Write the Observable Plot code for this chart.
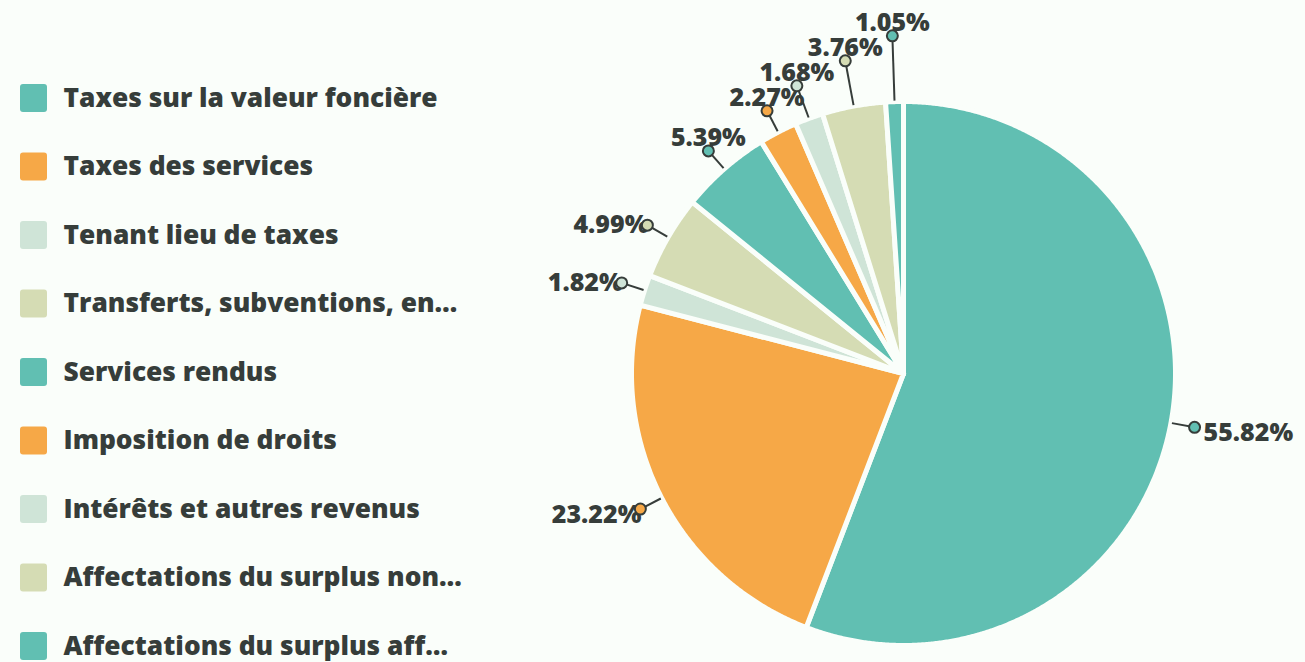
<!DOCTYPE html>
<html>
<head>
<meta charset="utf-8">
<script src="https://cdn.jsdelivr.net/npm/d3@7"></script>
<script src="https://cdn.jsdelivr.net/npm/@observablehq/plot@0.6"></script>
<style>
  html, body { margin: 0; padding: 0; background: #fafefa; }
  #chart svg { display: block; }
</style>
</head>
<body>
<div id="chart"></div>
<script>
// ---- data ----
const categories = [
  "Taxes sur la valeur foncière",
  "Taxes des services",
  "Tenant lieu de taxes",
  "Transferts, subventions, en…",
  "Services rendus",
  "Imposition de droits",
  "Intérêts et autres revenus",
  "Affectations du surplus non…",
  "Affectations du surplus aff…"
];
const shares = [55.82, 23.22, 1.82, 4.99, 5.39, 2.27, 1.68, 3.76, 1.05];
const sliceColors = ["#61bfb2", "#f6a847", "#cfe4d7", "#d5dcb4", "#61bfb2", "#f6a847", "#cfe4d7", "#d5dcb4", "#61bfb2"];

// ---- layout ----
const W = 1305, H = 662;
const bg = "#fafefa";
const ink = "#363d3a";
const cx = 903, cy = 373, R = 272, rDot = 296, gap = 25;
const total = d3.sum(shares);

// slices
let acc = 0;
const slices = shares.map((v, i) => {
  const a0 = acc / total * 2 * Math.PI;
  acc += v;
  const a1 = acc / total * 2 * Math.PI;
  return {i, v, a0, a1, mid: (a0 + a1) / 2, color: sliceColors[i], name: categories[i]};
});
const slicePts = [];
for (const s of slices) {
  slicePts.push({key: s.i, color: s.color, x: cx, y: cy});
  const n = Math.max(2, Math.ceil((s.a1 - s.a0) / 0.005));
  for (let k = 0; k <= n; k++) {
    const a = s.a0 + (s.a1 - s.a0) * k / n;
    slicePts.push({key: s.i, color: s.color, x: cx + R * Math.sin(a), y: cy - R * Math.cos(a)});
  }
}

// labels with simple collision avoidance on the upper-left side
const labels = slices.map(s => {
  const sn = Math.sin(s.mid), cs = Math.cos(s.mid);
  return {...s, sn, cs, r: rDot, x: cx + rDot * sn, y: cy - rDot * cs};
});
for (let i = 1; i < labels.length; i++) {
  const p = labels[i - 1], l = labels[i];
  if (l.sn < 0 && l.cs > 0 && p.sn < 0 && p.cs > 0 && l.y > p.y - gap) {
    const ny = p.y - gap;
    l.r = (cy - ny) / l.cs;
    l.x = cx + l.r * l.sn;
    l.y = ny;
  }
}
for (const l of labels) {
  const deg = (l.mid * 180 / Math.PI + 360) % 360;
  const fromTop = Math.min(deg, 360 - deg);
  l.mode = fromTop < 50 ? "above" : (l.sn < 0 ? "left" : "right");
  l.lx1 = cx + (R + 1) * l.sn; l.ly1 = cy - (R + 1) * l.cs;
  l.text = l.v.toFixed(2) + "%";
  l.ty = l.mode === "above" ? l.y - 5 : l.y + (l.cs < 0 ? 6 : 0);
}

const legend = categories.map((name, i) => ({name, color: sliceColors[i], y: 98 + i * 68.5}));

const font = "'Open Sans', Lato, sans-serif";
const pctSize = 25, legSize = 26.3;
const chart = Plot.plot({
  width: W, height: H, margin: 0,
  x: {domain: [0, W], range: [0, W], axis: null},
  y: {domain: [0, H], range: [0, H], axis: null},
  color: {type: "identity"},
  style: {background: bg, fontFamily: font},
  marks: [
    Plot.line(slicePts, {x: "x", y: "y", z: "key", fill: "color", stroke: bg, strokeWidth: 5, strokeLinejoin: "round", curve: "linear-closed"}),
    Plot.link(labels, {x1: "lx1", y1: "ly1", x2: "x", y2: "y", stroke: ink, strokeWidth: 2}),
    Plot.text(labels.filter(l => l.mode === "above"), {x: "x", y: "ty", text: "text", textAnchor: "middle", lineAnchor: "bottom", fill: ink, fontSize: pctSize, fontWeight: 800}),
    Plot.text(labels.filter(l => l.mode === "left"), {x: d => d.x + 1, y: "ty", text: "text", textAnchor: "end", lineAnchor: "middle", fill: ink, fontSize: pctSize, fontWeight: 800}),
    Plot.text(labels.filter(l => l.mode === "right"), {x: d => d.x + 9, y: "ty", text: "text", textAnchor: "start", lineAnchor: "middle", fill: ink, fontSize: pctSize, fontWeight: 800}),
    Plot.dot(labels, {x: "x", y: "y", r: 5.5, fill: "color", stroke: ink, strokeWidth: 2}),
    Plot.rect(legend, {x1: () => 20, x2: () => 47, y1: d => d.y - 14, y2: d => d.y + 14, fill: "color", rx: 3}),
    Plot.text(legend, {x: () => 63, y: "y", text: "name", textAnchor: "start", lineAnchor: "middle", fill: ink, fontSize: legSize, fontWeight: 800})
  ]
});
document.getElementById("chart").appendChild(chart);
</script>
</body>
</html>
